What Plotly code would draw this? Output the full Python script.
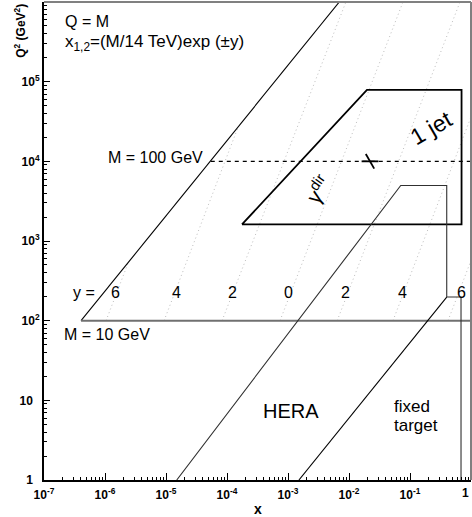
import numpy as np
import plotly.graph_objects as go

# ---------------- data ----------------
x_tick_vals = [1e-7, 1e-6, 1e-5, 1e-4, 1e-3, 1e-2, 1e-1, 1]
x_tick_text = ["10<sup>-7</sup>", "10<sup>-6</sup>", "10<sup>-5</sup>", "10<sup>-4</sup>",
               "10<sup>-3</sup>", "10<sup>-2</sup>", "10<sup>-1</sup>", "1"]
y_tick_vals = [1, 10, 100, 1e3, 1e4, 1e5]
y_tick_text = ["1&nbsp;&nbsp;", "10&nbsp;&nbsp;", "10<sup>2</sup>", "10<sup>3</sup>",
               "10<sup>4</sup>", "10<sup>5</sup>"]

# kinematic limit line
limit_x = [4.05e-7, 6.93e-3]
limit_q2 = [100, 1e6]

# M = 10 GeV and M = 100 GeV lines
m10_x = [4.05e-7, 1.0]
m10_q2 = [100, 100]
m100_x = [5.42e-5, 1.0]
m100_q2 = [1e4, 1e4]

# constant-rapidity lines
rapidity = [6, 4, 2, 0, -2, -4, -6]
rap_x_start = [1.04e-6, 9.3e-6, 8.3e-5, 7.4e-4, 6.4e-3, 0.0526, 0.42]
rap_q2_start = [100, 100, 100, 100, 100, 100, 100]
rap_x_end = [2.38e-6, 1.49e-4, 8.9e-3, 0.0767, 0.66, 1.0, 1.0]
rap_q2_end = [524, 2.58e4, 1e6, 1e6, 1e6, 3.6e4, 570]
rap_label_x = [1.49e-6, 1.51e-5, 1.21e-4, 1.0e-3, 8.9e-3, 0.0767, 0.686]
rap_label_q2 = 227

# LHC jet / direct photon region
jet_x = [1.76e-4, 0.0197, 0.70, 0.70, 1.76e-4]
jet_q2 = [1615, 7.9e4, 7.9e4, 1615, 1615]

# HERA region boundary
hera_x = [1.5e-5, 0.0705, 0.40, 0.40, 0.686, 0.686]
hera_q2 = [1, 4975, 4975, 198, 198, 1]

# fixed target boundary
ft_x = [1.51e-3, 0.40]
ft_q2 = [1, 198]

# central point marker
point_x = [0.0221]
point_q2 = [1e4]

FONT = "Liberation Sans, Arial, sans-serif"

fig = go.Figure()


def add_line(xs, ys, color="black", width=1.0, dash="solid"):
    fig.add_trace(go.Scatter(x=xs, y=ys, mode="lines",
                             line=dict(color=color, width=width, dash=dash),
                             hoverinfo="skip", showlegend=False))


for i in range(len(rapidity)):
    add_line([rap_x_start[i], rap_x_end[i]], [rap_q2_start[i], rap_q2_end[i]],
             color="#bdbdbd", width=1, dash="1px,3px")

add_line(limit_x, limit_q2, "black", 1.1)
add_line(m10_x, m10_q2, "#707070", 2.0)
add_line(m100_x, m100_q2, "black", 1.1, dash="4px,4px")
add_line(jet_x, jet_q2, "black", 1.8)
add_line(hera_x, hera_q2, "#303030", 1.1)
add_line(ft_x, ft_q2, "black", 1.1)

# tilted "+" marker: a horizontal stroke and a slanted stroke
fig.add_trace(go.Scatter(x=point_x, y=point_q2, mode="markers",
                         marker=dict(symbol="line-ew-open", size=12, color="black",
                                     line=dict(color="black", width=1.8)),
                         hoverinfo="skip", showlegend=False))
fig.add_trace(go.Scatter(x=point_x, y=point_q2, mode="markers",
                         marker=dict(symbol="line-ns-open", size=12, angle=-30,
                                     color="black",
                                     line=dict(color="black", width=1.8)),
                         hoverinfo="skip", showlegend=False))

L = np.log10
ann = []


def text(x, y, s, size=16, anchor="left", angle=0, **kw):
    ann.append(dict(x=L(x), y=L(y), xref="x", yref="y", text=s, showarrow=False,
                    xanchor=anchor, yanchor="middle", textangle=angle,
                    font=dict(family=FONT, size=size, color="black"), **kw))


text(2.05e-7, 5.65e5, "Q = M")
text(2.05e-7, 3.08e5, "x<sub>1,2</sub>=(M/14 TeV)exp (±y)", size=17)
text(1.04e-6, 1.12e4, "M = 100 GeV")
text(1.97e-7, 67.6, "M = 10 GeV")
text(4.53e-7, rap_label_q2, "y =", anchor="center")
for i in range(len(rapidity)):
    text(rap_label_x[i], rap_label_q2, str(abs(rapidity[i])), anchor="center")
text(0.22, 2.65e4, "1 jet", size=23, anchor="center", angle=-30)
text(3.1e-3, 4560, "γ<sup>dir</sup>", size=21, anchor="center", angle=-55)
text(1.12e-3, 7.43, "HERA", size=20, anchor="center")
text(0.0507, 8.3, "fixed", size=17)
text(0.0507, 4.9, "target", size=17)

tickfont = dict(family=FONT, size=12, color="black", weight="bold")

# last x tick label (would be dropped at the figure edge), placed by hand
ann.append(dict(x=L(x_tick_vals[-1]), y=0, xref="x", yref="paper", showarrow=False,
                text=x_tick_text[-1], xanchor="right", yanchor="top", yshift=-4,
                font=tickfont))

# axis titles
ann.append(dict(x=-0.056, y=0.94, xref="paper", yref="paper", showarrow=False,
                text="Q<sup>2</sup> (GeV<sup>2</sup>)", textangle=-90,
                xanchor="center", yanchor="middle",
                font=dict(family=FONT, size=12, color="black", weight="bold")))
ann.append(dict(x=0.5, y=-0.061, xref="paper", yref="paper", showarrow=False,
                text="x", xanchor="center", yanchor="middle",
                font=dict(family=FONT, size=14, color="black", weight="bold")))

fig.update_layout(
    width=472, height=517,
    margin=dict(l=44, r=1, t=2, b=37),
    paper_bgcolor="white", plot_bgcolor="white",
    annotations=ann,
    xaxis=dict(type="log", range=[-7, 0], tickmode="array", tickvals=x_tick_vals,
               ticktext=x_tick_text[:-1] + [""], ticks="inside", ticklen=7, tickwidth=1,
               tickcolor="black", showgrid=False, zeroline=False,
               showline=True, linecolor="black", linewidth=2,
               tickfont=tickfont, ticklabelstandoff=3,
               minor=dict(ticks="inside", ticklen=3, tickwidth=1, tickcolor="black",
                          dtick="D1", showgrid=False)),
    yaxis=dict(type="log", range=[0, 6], tickmode="array", tickvals=y_tick_vals,
               ticktext=y_tick_text, ticks="inside", ticklen=6, tickwidth=1,
               tickcolor="black", showgrid=False, zeroline=False,
               showline=True, linecolor="black", linewidth=2,
               tickfont=tickfont,
               minor=dict(ticks="inside", ticklen=3, tickwidth=1, tickcolor="black",
                          dtick="D1", showgrid=False)),
    shapes=[
        dict(type="line", xref="paper", yref="paper", x0=0, x1=1, y0=1, y1=1,
             line=dict(color="#808080", width=2)),
        dict(type="line", xref="paper", yref="paper", x0=1, x1=1, y0=0, y1=1,
             line=dict(color="#808080", width=2)),
    ],
)

fig.write_html("out.html",
               config={"displayModeBar": False},
               post_script="document.body.style.margin='0';"
                           "document.body.style.padding='0';"
                           "document.body.style.overflow='hidden';")
